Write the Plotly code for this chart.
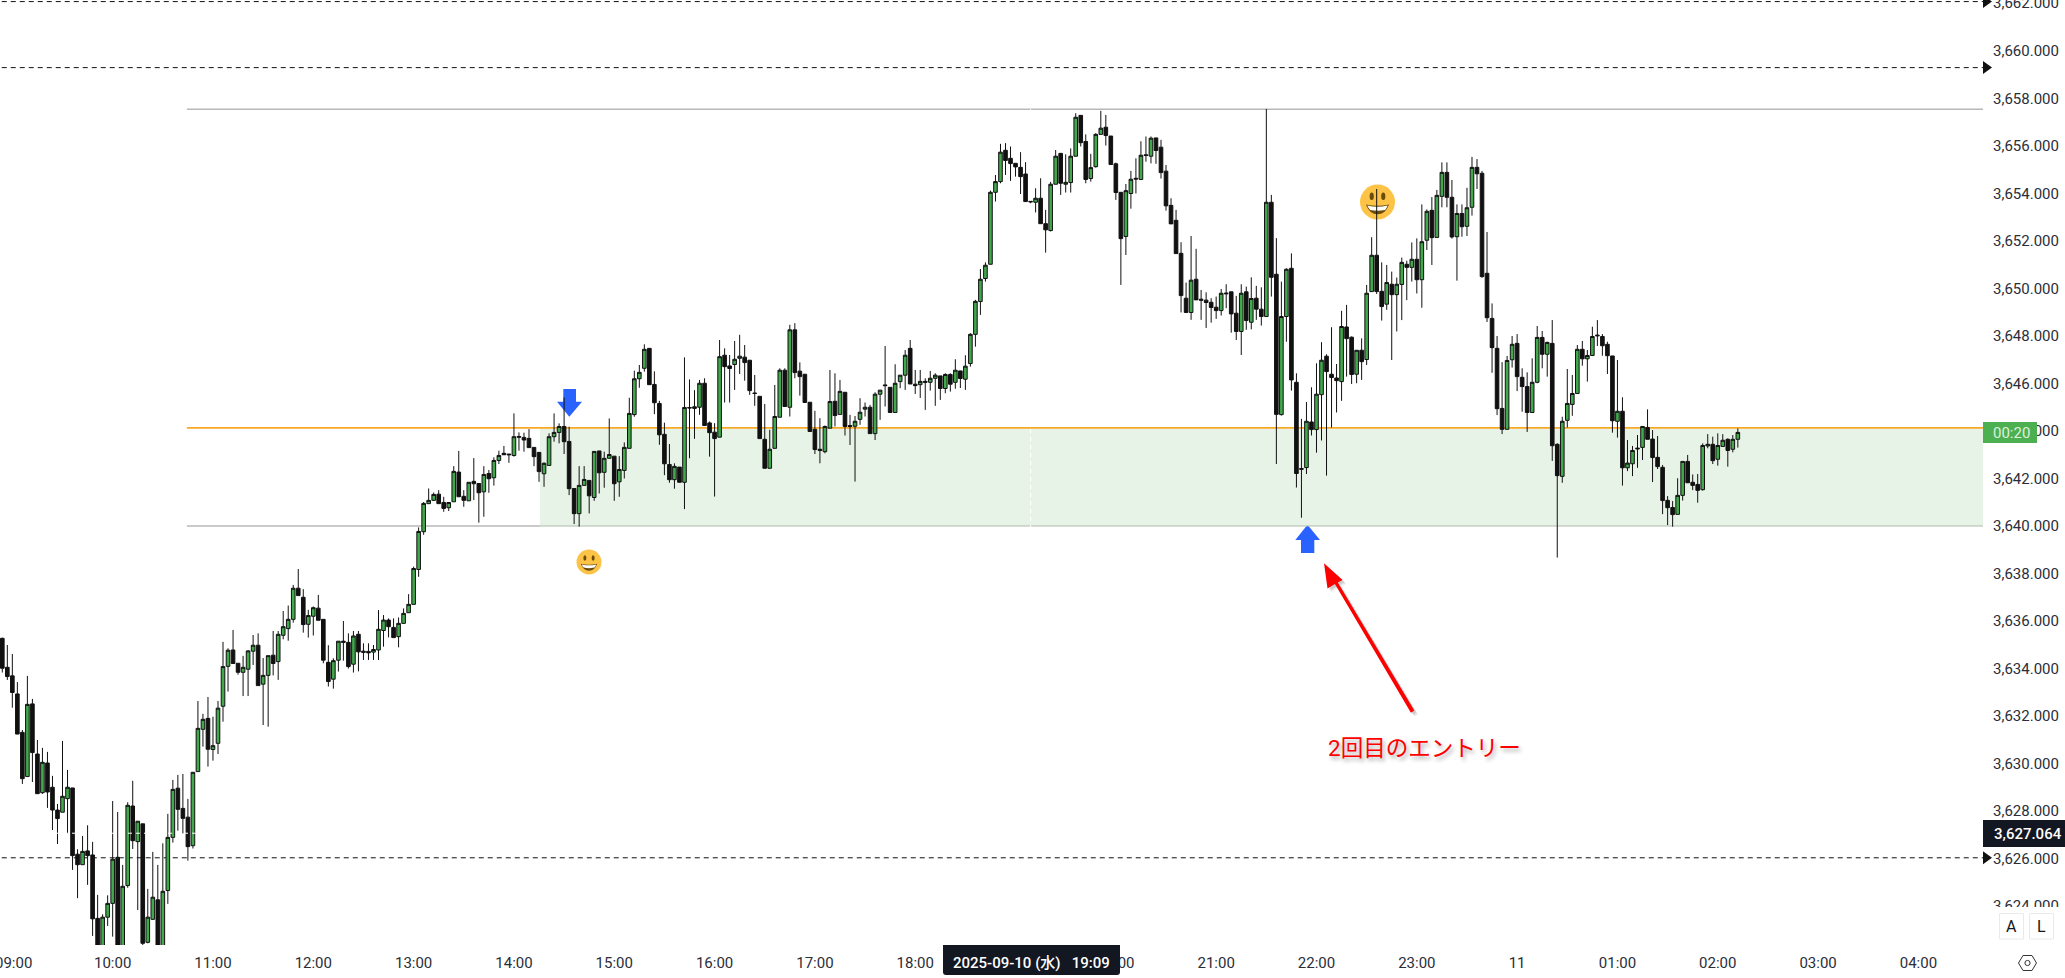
import pandas as pd
import plotly.graph_objects as go

# ---------- candle values (3-minute bars) ----------
open_prices = [
3635.27,3634.05,3633.69,3632.93,3631.31,3629.45,3632.51,3630.40,3628.77,3630.02,
3629.00,3628.04,3627.95,3628.52,3628.97,3626.18,3625.74,3626.32,3626.15,3623.48,
3622.01,3623.53,3624.11,3626.05,3622.22,3624.86,3628.21,3626.71,3627.46,3622.47,
3623.44,3624.26,3622.29,3624.65,3626.89,3628.96,3628.11,3627.74,3626.54,3629.66,
3631.44,3631.90,3630.59,3630.85,3632.41,3634.09,3634.78,3634.22,3633.84,3633.97,
3634.73,3634.98,3633.34,3633.71,3634.56,3634.29,3635.40,3635.68,3636.07,3637.38,
3637.00,3635.86,3636.20,3636.54,3636.07,3634.26,3633.55,3634.35,3635.15,3635.10,
3634.18,3635.44,3634.73,3634.72,3634.69,3634.78,3635.60,3636.04,3635.73,3635.34,
3635.90,3636.35,3636.70,3638.17,3639.76,3640.94,3641.08,3641.34,3640.99,3640.77,
3641.02,3642.27,3641.25,3641.06,3641.88,3641.79,3641.44,3642.21,3642.03,3642.76,
3643.06,3643.03,3642.97,3643.77,3643.73,3643.69,3643.31,3643.10,3642.20,3642.55,
3643.76,3643.94,3644.19,3643.56,3641.58,3640.52,3641.71,3641.92,3641.20,3643.16,
3642.26,3642.85,3642.94,3641.86,3642.34,3643.27,3644.69,3646.20,3646.64,3647.48,
3645.96,3645.16,3643.86,3642.59,3641.95,3642.48,3641.84,3644.99,3644.95,3645.00,
3646.01,3644.34,3643.95,3643.74,3647.19,3646.74,3646.80,3647.06,3647.11,3646.98,
3645.60,3645.46,3643.65,3642.43,3643.27,3644.58,3646.56,3645.00,3648.26,3646.52,
3646.39,3645.21,3644.07,3643.23,3643.13,3644.12,3645.25,3644.70,3645.63,3644.23,
3644.20,3644.49,3644.92,3645.00,3643.89,3645.55,3645.94,3645.84,3644.78,3646.08,
3646.35,3647.48,3645.97,3645.95,3646.09,3646.05,3646.22,3646.32,3645.79,3646.38,
3646.05,3646.53,3646.18,3646.84,3648.07,3649.45,3650.42,3651.02,3654.05,3654.50,
3655.82,3655.48,3655.27,3655.10,3654.82,3653.67,3653.63,3653.80,3652.73,3652.44,
3654.39,3655.69,3654.39,3654.46,3655.57,3657.29,3656.19,3654.63,3655.13,3656.49,
3656.79,3656.42,3655.25,3654.05,3652.19,3654.00,3654.64,3654.59,3655.63,3655.57,
3656.34,3655.95,3654.94,3653.50,3652.87,3651.48,3649.59,3648.99,3650.39,3649.55,
3649.51,3649.42,3649.21,3649.07,3649.81,3649.86,3648.96,3648.19,3649.86,3648.58,
3649.59,3649.13,3648.82,3653.63,3650.60,3644.69,3648.82,3650.85,3646.05,3642.42,
3642.46,3644.38,3644.06,3645.53,3647.15,3646.39,3646.23,3646.08,3648.38,3647.95,
3646.39,3647.40,3647.01,3649.87,3651.40,3649.88,3649.34,3650.18,3649.74,3650.17,
3651.02,3650.89,3651.23,3650.37,3652.03,3653.29,3652.15,3653.88,3654.89,3653.84,
3652.18,3653.16,3652.62,3653.42,3655.10,3654.85,3650.64,3648.74,3647.48,3644.95,
3644.07,3647.00,3647.69,3646.26,3645.87,3644.78,3646.05,3647.94,3647.23,3647.69,
3643.44,3642.09,3644.45,3645.12,3645.58,3647.44,3647.04,3647.18,3648.04,3647.98,
3647.65,3647.16,3644.41,3644.83,3642.45,3642.62,3643.28,3643.31,3644.15,3643.66,
3642.89,3642.47,3641.08,3640.78,3640.49,3641.29,3642.72,3641.84,3641.75,3641.53,
3643.37,3643.44,3642.81,3643.35,3643.65,3643.23,3643.65]

high_prices = [
3635.30,3634.99,3634.61,3633.43,3631.41,3633.69,3632.72,3630.99,3630.66,3630.49,
3629.48,3628.30,3630.95,3629.73,3628.97,3626.39,3626.95,3627.40,3626.70,3624.47,
3623.65,3624.45,3628.42,3627.96,3625.73,3628.37,3629.27,3627.57,3627.46,3624.72,
3626.28,3625.73,3626.64,3627.88,3629.31,3629.52,3629.56,3628.51,3629.63,3632.63,
3632.09,3632.80,3631.97,3632.63,3635.12,3634.85,3635.62,3634.22,3634.53,3634.78,
3635.41,3635.48,3634.44,3634.54,3635.58,3635.58,3636.42,3636.65,3637.52,3638.19,
3637.34,3636.47,3636.61,3637.10,3636.07,3634.98,3634.43,3635.15,3636.00,3635.48,
3635.58,3635.58,3635.06,3635.06,3634.99,3636.46,3636.25,3636.11,3636.11,3636.15,
3636.53,3637.13,3638.29,3639.94,3641.01,3641.58,3641.41,3641.51,3641.23,3640.99,
3642.52,3643.16,3641.51,3641.84,3642.86,3641.79,3642.52,3642.36,3642.89,3643.17,
3643.37,3643.03,3644.74,3643.94,3643.93,3644.08,3643.31,3643.10,3642.68,3643.90,
3644.74,3644.32,3645.41,3644.18,3641.58,3642.52,3642.52,3641.92,3643.14,3643.16,
3643.13,3644.53,3642.94,3642.94,3643.52,3645.40,3646.54,3646.78,3647.65,3647.48,
3646.51,3645.27,3644.35,3643.45,3642.64,3642.48,3647.10,3646.17,3645.72,3646.15,
3646.22,3644.40,3644.33,3647.83,3647.48,3647.20,3647.79,3648.05,3647.62,3646.98,
3646.36,3645.46,3645.14,3644.05,3645.94,3646.64,3646.64,3648.47,3648.54,3646.89,
3646.39,3645.21,3644.85,3644.54,3644.23,3646.57,3646.43,3646.15,3645.63,3644.68,
3644.63,3645.38,3645.20,3645.10,3645.63,3645.72,3647.58,3645.84,3646.81,3646.35,
3647.41,3647.83,3646.57,3646.57,3646.22,3646.53,3646.43,3646.32,3646.43,3646.43,
3647.02,3646.53,3647.19,3648.12,3649.52,3650.82,3651.10,3654.12,3654.78,3656.09,
3656.12,3655.98,3655.27,3655.74,3655.32,3653.73,3654.22,3654.64,3653.31,3654.49,
3655.83,3655.69,3655.65,3655.90,3657.38,3657.29,3656.49,3655.67,3656.54,3657.48,
3657.31,3656.42,3655.30,3654.05,3654.40,3654.95,3655.48,3656.20,3656.40,3656.40,
3656.34,3656.26,3655.20,3653.80,3653.31,3651.95,3650.25,3652.21,3651.67,3649.94,
3649.84,3649.59,3649.66,3649.98,3650.18,3649.86,3649.69,3650.18,3650.08,3650.47,
3650.11,3650.05,3657.56,3653.94,3652.12,3650.29,3650.85,3651.48,3646.43,3644.51,
3645.22,3645.84,3646.85,3647.74,3647.23,3648.37,3646.82,3649.06,3649.31,3647.98,
3647.41,3647.90,3650.15,3652.16,3654.19,3651.10,3650.99,3650.71,3650.46,3651.30,
3651.17,3651.94,3652.11,3653.54,3653.33,3653.85,3654.15,3655.31,3655.31,3654.57,
3653.54,3653.54,3654.24,3655.54,3655.45,3654.95,3652.38,3649.37,3648.00,3646.90,
3647.16,3648.00,3648.08,3646.64,3646.47,3647.06,3648.42,3648.21,3647.76,3648.67,
3643.48,3644.60,3646.61,3646.36,3647.62,3647.79,3647.41,3648.39,3648.67,3648.08,
3647.76,3647.16,3646.99,3645.42,3643.62,3643.37,3643.83,3644.19,3644.91,3644.04,
3643.79,3642.57,3641.26,3641.05,3642.01,3642.72,3642.99,3642.17,3642.19,3643.48,
3643.87,3643.76,3643.90,3643.87,3643.69,3643.83,3644.11]

low_prices = [
3633.83,3633.52,3632.35,3631.24,3629.14,3629.45,3629.22,3628.73,3628.72,3628.13,
3627.20,3626.61,3627.95,3627.06,3625.52,3624.33,3625.74,3624.89,3622.74,3621.66,
3621.73,3623.16,3622.71,3621.99,3621.99,3624.77,3626.40,3623.83,3622.36,3622.43,
3623.41,3621.99,3622.15,3624.09,3626.67,3627.17,3627.06,3625.91,3626.42,3629.66,
3630.71,3629.87,3630.12,3630.40,3631.76,3633.03,3634.21,3633.74,3632.84,3632.84,
3634.15,3633.28,3631.62,3631.55,3633.71,3633.52,3635.23,3635.17,3635.93,3637.07,
3635.51,3635.30,3635.39,3636.03,3634.22,3633.24,3633.15,3633.87,3634.33,3634.00,
3633.83,3633.88,3634.36,3634.36,3634.36,3634.36,3634.92,3635.31,3635.30,3634.89,
3635.90,3636.35,3636.70,3637.86,3639.63,3640.94,3641.06,3640.94,3640.60,3640.63,
3641.02,3641.23,3640.81,3641.06,3641.09,3640.14,3640.39,3641.40,3641.70,3642.61,
3643.00,3642.66,3642.92,3643.17,3643.13,3643.30,3642.52,3641.86,3641.65,3642.55,
3643.55,3643.48,3643.03,3641.30,3640.08,3639.97,3641.71,3640.53,3641.06,3641.37,
3641.61,3642.85,3641.06,3641.23,3642.00,3643.27,3644.60,3645.82,3646.50,3645.95,
3644.71,3643.42,3642.14,3641.82,3641.57,3641.84,3640.71,3642.85,3643.67,3644.68,
3644.23,3642.92,3641.24,3643.74,3645.20,3645.20,3645.73,3646.40,3646.12,3645.52,
3645.06,3643.68,3642.43,3642.43,3643.27,3644.58,3645.03,3644.61,3646.22,3645.49,
3645.20,3643.98,3643.03,3642.64,3643.06,3644.12,3644.19,3644.70,3643.81,3643.41,
3641.87,3644.26,3644.61,3643.89,3643.62,3644.47,3645.03,3644.78,3644.78,3645.80,
3645.73,3645.98,3645.56,3645.39,3644.89,3645.70,3645.06,3645.31,3645.59,3645.66,
3645.78,3645.81,3645.73,3646.71,3647.55,3648.89,3650.29,3651.02,3653.66,3654.43,
3654.78,3654.53,3654.71,3653.98,3653.66,3653.59,3653.20,3652.73,3651.51,3652.40,
3654.39,3653.94,3654.04,3654.04,3655.57,3655.98,3654.43,3654.50,3655.09,3656.49,
3656.02,3655.22,3653.73,3650.15,3651.41,3653.36,3654.00,3654.59,3655.34,3655.27,
3655.25,3654.63,3653.28,3652.72,3651.47,3648.99,3648.99,3648.68,3649.52,3648.68,
3648.34,3648.56,3648.72,3648.86,3649.17,3648.14,3647.83,3647.20,3648.26,3648.28,
3648.68,3648.44,3648.82,3649.66,3642.61,3644.65,3647.76,3645.70,3641.62,3640.35,
3642.19,3643.81,3643.09,3643.60,3642.12,3644.14,3644.78,3645.27,3646.29,3645.98,
3646.01,3646.15,3646.78,3649.87,3649.77,3648.65,3649.10,3646.99,3648.19,3648.67,
3649.51,3650.29,3649.79,3649.19,3651.62,3650.99,3652.15,3653.42,3653.42,3652.10,
3650.33,3652.18,3652.21,3653.07,3654.19,3650.45,3648.59,3646.45,3644.67,3643.87,
3644.07,3646.67,3645.68,3644.81,3643.96,3644.78,3646.01,3646.64,3646.29,3642.74,
3638.67,3641.82,3644.15,3644.64,3645.58,3646.75,3646.08,3647.18,3647.58,3647.17,
3646.40,3643.93,3643.72,3641.70,3642.31,3642.10,3642.45,3642.78,3643.65,3641.85,
3642.40,3640.50,3640.04,3639.97,3640.49,3641.07,3641.82,3641.51,3640.98,3641.49,
3643.27,3642.61,3642.54,3643.34,3642.50,3643.10,3643.30]

close_prices = [
3634.01,3633.66,3632.99,3631.24,3629.36,3632.49,3630.46,3628.73,3630.05,3628.80,
3628.04,3627.68,3628.62,3629.00,3626.12,3625.74,3626.30,3626.12,3623.46,3622.01,
3623.53,3624.11,3625.97,3622.22,3624.83,3628.24,3626.75,3627.57,3622.43,3623.53,
3624.37,3622.29,3624.62,3626.89,3628.91,3628.07,3627.69,3626.50,3629.63,3631.48,
3631.86,3630.60,3630.75,3632.33,3634.08,3634.77,3634.21,3633.84,3634.05,3634.74,
3634.98,3633.28,3633.71,3634.54,3634.21,3635.44,3635.76,3636.07,3637.38,3637.07,
3635.85,3636.23,3636.56,3636.03,3634.35,3633.45,3634.33,3635.15,3635.10,3634.08,
3635.37,3634.70,3634.68,3634.66,3634.80,3635.65,3636.04,3635.76,3635.30,3635.90,
3636.32,3636.70,3638.21,3639.77,3640.95,3641.08,3641.33,3640.94,3640.74,3640.99,
3642.30,3641.23,3641.08,3641.84,3641.78,3641.40,3642.17,3641.99,3642.76,3642.97,
3643.00,3643.00,3643.76,3643.74,3643.62,3643.30,3642.92,3642.29,3642.64,3643.76,
3643.94,3644.19,3643.55,3641.57,3640.52,3641.71,3641.96,3641.27,3643.14,3642.24,
3642.85,3643.01,3641.78,3642.38,3643.31,3644.74,3646.20,3646.47,3647.44,3645.95,
3645.19,3643.84,3642.62,3641.95,3642.51,3641.84,3644.99,3644.97,3645.02,3646.01,
3644.23,3643.93,3643.68,3647.13,3646.71,3646.63,3647.02,3647.15,3646.88,3645.70,
3645.58,3643.68,3642.43,3643.23,3644.61,3646.56,3645.03,3648.26,3646.46,3646.29,
3645.20,3643.98,3643.22,3643.18,3644.19,3645.24,3644.65,3645.67,3644.19,3644.19,
3644.41,3644.79,3645.00,3643.89,3645.55,3645.72,3645.91,3644.78,3646.01,3646.35,
3647.19,3645.98,3645.91,3646.09,3646.05,3646.22,3646.35,3645.79,3646.38,3645.97,
3646.56,3646.21,3646.73,3648.07,3649.46,3650.39,3650.98,3654.05,3654.50,3655.74,
3655.39,3655.26,3655.12,3654.71,3653.66,3653.65,3653.80,3652.73,3652.47,3654.39,
3655.57,3654.43,3654.47,3655.57,3657.21,3656.14,3654.59,3655.09,3656.49,3656.75,
3656.44,3655.22,3654.04,3652.10,3654.12,3654.60,3654.61,3655.61,3655.60,3656.33,
3655.81,3654.88,3653.48,3652.72,3651.47,3649.70,3648.99,3650.35,3649.52,3649.51,
3649.41,3649.20,3649.07,3649.80,3649.78,3648.93,3648.19,3649.80,3648.65,3649.58,
3649.13,3648.82,3653.63,3650.47,3644.70,3648.82,3650.81,3646.15,3642.21,3642.39,
3644.41,3644.06,3645.55,3646.98,3646.50,3646.25,3646.12,3648.40,3647.89,3646.38,
3647.40,3646.92,3649.80,3651.40,3649.87,3649.24,3650.25,3649.74,3650.18,3651.10,
3650.89,3651.23,3650.37,3651.97,3653.25,3652.14,3653.92,3654.89,3653.84,3652.17,
3653.16,3652.60,3653.40,3655.10,3654.83,3650.50,3648.77,3647.51,3644.94,3644.07,
3646.97,3647.65,3646.29,3645.87,3644.78,3646.05,3647.94,3647.23,3647.73,3643.38,
3642.12,3644.41,3645.16,3645.58,3647.44,3647.04,3647.18,3647.98,3648.01,3647.59,
3647.17,3644.43,3644.83,3642.45,3642.65,3643.18,3643.25,3644.19,3643.65,3642.88,
3642.50,3641.07,3640.77,3640.48,3641.29,3642.72,3641.82,3641.71,3641.50,3643.39,
3643.44,3642.75,3643.39,3643.61,3643.18,3643.65,3643.94]

first_bar = "2025-09-10 08:54"
bar_freq = "3min"

hour_ticks = ["2025-09-10 10:00","2025-09-10 11:00","2025-09-10 12:00",
              "2025-09-10 13:00","2025-09-10 14:00","2025-09-10 15:00","2025-09-10 16:00",
              "2025-09-10 17:00","2025-09-10 18:00","2025-09-10 20:00",
              "2025-09-10 21:00","2025-09-10 22:00","2025-09-10 23:00","2025-09-11 00:00",
              "2025-09-11 01:00","2025-09-11 02:00","2025-09-11 03:00","2025-09-11 04:00"]
hour_labels = ["10:00","11:00","12:00","13:00","14:00","15:00","16:00","17:00","18:00",
               "20:00","21:00","22:00","23:00","11","01:00","02:00","03:00","04:00"]
price_ticks = [3624,3626,3628,3630,3632,3634,3636,3638,3640,3642,3644,3646,3648,3650,
               3652,3654,3656,3658,3660]

x_range = ["2025-09-10 08:52:37", "2025-09-11 04:38:38"]
y_range = [3622.358, 3662.147]

level_top = 3657.55
level_orange = 3644.13
level_bottom = 3640.0
level_dashed = [3662.08, 3659.3, 3626.03]
cross_price = 3627.064
cross_time = "2025-09-10 19:09"
line_start = "2025-09-10 10:44:24"
zone_start = "2025-09-10 14:15:36"

# ---------- colours ----------
GREEN = "#41A84C"
DARK = "#111111"
BOX = "#131722"
TXT = "#2a2e39"
FONT = "Roboto, 'Noto Sans CJK JP', sans-serif"

PW, PH = 1983.0, 945.0   # plot area in pixels


def px(x):
    return x / PW


def py(y):
    return 1 - y / PH


def poly(points):
    return "M " + " L ".join(f"{px(a):.6f},{py(b):.6f}" for a, b in points) + " Z"


shapes = []


def add_poly(points, fill, layer="below"):
    shapes.append(dict(type="path", xref="paper", yref="paper", path=poly(points),
                       fillcolor=fill, line=dict(width=0), layer=layer))


def add_rect(x0, y0, x1, y1, fill, line=None, layer="above"):
    shapes.append(dict(type="rect", xref="paper", yref="paper", x0=px(x0), x1=px(x1),
                       y0=py(y1), y1=py(y0), fillcolor=fill,
                       line=dict(width=1 if line else 0, color=line or fill), layer=layer))


def add_ell(cx, cy, rx, ry, fill, line=None, layer="below"):
    shapes.append(dict(type="circle", xref="paper", yref="paper", x0=px(cx - rx), x1=px(cx + rx),
                       y0=py(cy + ry), y1=py(cy - ry), fillcolor=fill,
                       line=dict(width=1 if line else 0, color=line or fill), layer=layer))


def add_emoji(cx, cy, r):
    add_ell(cx, cy, r, r, "#FDC346")
    add_ell(cx - 0.33 * r, cy - 0.33 * r, 0.12 * r, 0.22 * r, "#6B4C0A")
    add_ell(cx + 0.33 * r, cy - 0.33 * r, 0.12 * r, 0.22 * r, "#6B4C0A")
    p = lambda a, b: f"{px(cx + a * r):.6f},{py(cy + b * r):.6f}"
    shapes.append(dict(type="path", xref="paper", yref="paper", layer="below",
                       path=f"M {p(-0.66, 0.14)} Q {p(0, 0.30)} {p(0.66, 0.14)} Q {p(0.45, 0.70)} {p(0, 0.70)} Q {p(-0.45, 0.70)} {p(-0.66, 0.14)} Z",
                       fillcolor="#6B4C0A", line=dict(width=0)))
    shapes.append(dict(type="path", xref="paper", yref="paper", layer="below",
                       path=f"M {p(-0.58, 0.20)} Q {p(0, 0.34)} {p(0.58, 0.20)} Q {p(0.50, 0.42)} {p(0.42, 0.45)} Q {p(0, 0.54)} {p(-0.42, 0.45)} Q {p(-0.5, 0.40)} {p(-0.58, 0.20)} Z",
                       fillcolor="#FFFFFF", line=dict(width=0)))


# zone and levels
shapes.append(dict(type="rect", xref="x", yref="y", x0=zone_start, x1=x_range[1],
                   y0=level_bottom, y1=level_orange - 0.03, fillcolor="#E8F3E8",
                   line=dict(width=0), layer="below"))
shapes.append(dict(type="line", xref="x", yref="y", x0=line_start, x1=x_range[1],
                   y0=level_top, y1=level_top, line=dict(color="#B8B8B8", width=1.6), layer="below"))
shapes.append(dict(type="line", xref="x", yref="y", x0=line_start, x1=zone_start,
                   y0=level_bottom, y1=level_bottom, line=dict(color="#B8B8B8", width=1.6), layer="below"))
shapes.append(dict(type="line", xref="x", yref="y", x0=zone_start, x1=x_range[1],
                   y0=level_bottom, y1=level_bottom, line=dict(color="#ABBBAB", width=1.2), layer="below"))
shapes.append(dict(type="line", xref="x", yref="y", x0=line_start, x1=x_range[1],
                   y0=level_orange, y1=level_orange, line=dict(color="#F9A825", width=1.6), layer="below"))
for lv in level_dashed:
    shapes.append(dict(type="line", xref="x", yref="y", x0="2025-09-10 08:53:40", x1=x_range[1],
                       y0=lv, y1=lv, line=dict(color="#111111", width=1, dash="5px,4px"), layer="below"))
    yy = (y_range[1] - lv) / (y_range[1] - y_range[0]) * PH
    add_poly([(1983, yy - 6.5), (1992, yy), (1983, yy + 6.5)], "#111111", layer="above")

# crosshair
shapes.append(dict(type="line", xref="x", yref="paper", x0=cross_time, x1=cross_time, y0=0, y1=1,
                   line=dict(color="#FFFFFF", width=1, dash="4px,4px"), layer="above"))
shapes.append(dict(type="line", xref="paper", yref="y", x0=0, x1=1, y0=cross_price, y1=cross_price,
                   line=dict(color="#FFFFFF", width=1, dash="4px,4px"), layer="above"))

# blue arrows
add_poly([(563.3, 389), (576, 389), (576, 401.7), (582, 401.7), (569.3, 416.7), (557, 401.7), (563.3, 401.7)], "#2962FF")
add_poly([(1301, 553), (1314.3, 553), (1314.3, 540), (1320, 540), (1307.5, 524.7), (1295.3, 540), (1301, 540)], "#2962FF")

# emoji
add_emoji(589, 562, 12.5)
add_emoji(1377.5, 202, 17.5)

# red arrow (soft shadow + arrow)
arrow_pts = [(1410.9, 712.8), (1334.9, 584.1), (1327.5, 588.5), (1324, 563.3),
             (1342.6, 579.9), (1337.8, 582.4), (1414.3, 710.6)]
for off, alpha in ((4, 0.05), (3, 0.07), (2, 0.09)):
    add_poly([(a + off, b + off) for a, b in arrow_pts], f"rgba(0,0,0,{alpha})")
add_poly(arrow_pts, "#FF0000")

# axis overlays (price tags, date tag, clipped label mask, buttons)
add_rect(1983, 907, 2065, 945, "#FFFFFF")
add_rect(1983, 422, 2037, 443, "#4CAF50")
add_rect(1983, 820, 2065, 847, BOX)
shapes.append(dict(type="path", xref="paper", yref="paper", layer="above", fillcolor=BOX, line=dict(width=0),
                   path=f"M {px(943)},{py(945)} L {px(1120)},{py(945)} L {px(1120)},{py(972)} "
                        f"Q {px(1120)},{py(975)} {px(1117)},{py(975)} L {px(946)},{py(975)} "
                        f"Q {px(943)},{py(975)} {px(943)},{py(972)} Z"))
for x0, x1 in ((1999.5, 2023.5), (2029.5, 2053.5)):
    shapes.append(dict(type="rect", xref="paper", yref="paper", x0=px(x0), x1=px(x1), y0=py(939), y1=py(913.5),
                       fillcolor="#FFFFFF", line=dict(color="#EAEAEA", width=1), layer="above"))
hex_pts = [(2018.5, 963), (2023, 955.5), (2032, 955.5), (2036.5, 963), (2032, 970.5), (2023, 970.5)]
shapes.append(dict(type="path", xref="paper", yref="paper", path=poly(hex_pts), fillcolor="rgba(0,0,0,0)",
                   line=dict(color="#333333", width=1), layer="above"))
add_ell(2027.5, 963, 2.6, 2.6, "rgba(0,0,0,0)", line="#333333", layer="above")


def note(x, y, text, size=15, color=TXT, **font_extra):
    return dict(xref="paper", yref="paper", x=px(x), y=py(y), text=text, showarrow=False,
                xanchor="center", yanchor="middle", font=dict(family=FONT, size=size, color=color, **font_extra))


annotations = [
    note(1424, 747.5, "2回目のエントリー", size=22.5, color="#FF0000",
         shadow="2px 3px 4px rgba(0,0,0,0.35)"),
    note(2011.5, 432.5, "00:20", color="#DDF1DE"),
    note(2027.5, 833.5, "3,627.064", color="#FFFFFF", weight=500),
    note(1031, 962.5, "2025-09-10 (水)\u00a0\u00a0\u00a019:09", color="#FFFFFF", weight=500),
    note(2011.5, 926, "A", size=16, color="#131722"),
    note(2041.5, 926, "L", size=16, color="#131722"),
    note(2026, 3.5, "3,662.000"),
    note(13, 963, "09:00"),
]

fig = go.Figure(go.Candlestick(
    x=pd.date_range(first_bar, periods=len(open_prices), freq=bar_freq),
    open=open_prices, high=high_prices, low=low_prices, close=close_prices,
    increasing=dict(fillcolor=GREEN, line=dict(color=DARK, width=1)),
    decreasing=dict(fillcolor=DARK, line=dict(color=DARK, width=1)),
    whiskerwidth=0, hoverinfo="skip", showlegend=False,
))

fig.update_layout(
    width=2065, height=978,
    margin=dict(l=0, r=82, t=0, b=33, pad=0),
    paper_bgcolor="#FFFFFF", plot_bgcolor="#FFFFFF",
    font=dict(family=FONT, size=15, color=TXT),
    showlegend=False, shapes=shapes, annotations=annotations, dragmode=False,
    boxgap=0.28, boxgroupgap=0,
    xaxis=dict(type="date", range=x_range, rangeslider=dict(visible=False),
               tickmode="array", tickvals=hour_ticks, ticktext=hour_labels, tickangle=0,
               showgrid=False, zeroline=False, showline=False, ticks="", ticklabelstandoff=7,
               tickfont=dict(family=FONT, size=15, color=TXT)),
    yaxis=dict(side="right", range=y_range, tickmode="array", tickvals=price_ticks,
               ticktext=[f"{v:,.3f}" for v in price_ticks],
               showgrid=False, zeroline=False, showline=False, ticks="", ticklabelstandoff=9,
               tickfont=dict(family=FONT, size=15, color=TXT)),
)

fig.write_html("out.html", config=dict(displayModeBar=False, staticPlot=True),
               post_script="document.body.style.margin='0';document.body.style.overflow='hidden';")
